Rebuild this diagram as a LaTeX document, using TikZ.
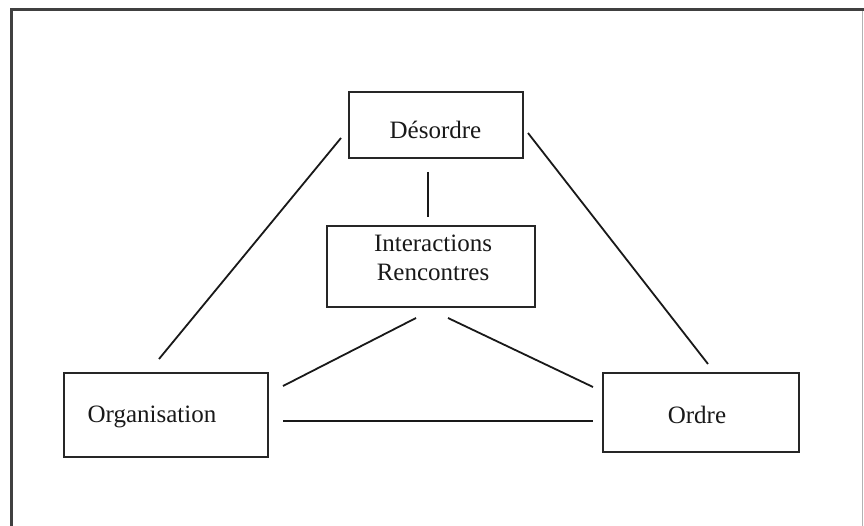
\documentclass[tikz,border=0pt]{standalone}
\usepackage{fontspec}
\setmainfont{Liberation Serif}
\begin{document}
\begin{tikzpicture}[x=1pt,y=-1pt,
  box/.style={draw=black!85,line width=1.7pt,rectangle,inner sep=0pt},
  lbl/.style={inner sep=0pt,align=center,text=black!90,font=\fontsize{25}{29}\selectfont},
  link/.style={draw=black!90,line width=1.8pt}]
  \useasboundingbox (0,0) rectangle (864,526);
  \fill[white] (0,0) rectangle (864,526);
  % outer frame
  \draw[black!30,line width=1pt] (862,10) -- (862,526);
  \draw[black!75,line width=3pt] (11,526) -- (11,10) -- (864,10);

  % boxes
  \node[box,minimum width=174pt,minimum height=66pt] (des) at (436,125) {};
  \node[box,minimum width=208pt,minimum height=81pt] (int) at (431,266.5) {};
  \node[box,minimum width=204pt,minimum height=84pt] (org) at (166,415) {};
  \node[box,minimum width=196pt,minimum height=79pt] (ord) at (701,412.5) {};

  % labels
  \node[lbl] (tdes) at (435.5,130) {Désordre};
  \node[lbl] (tint) at (433,258) {Interactions\\Rencontres};
  \node[lbl] (torg) at (152,417) {Organisation};
  \node[lbl] (tord) at (697,415) {Ordre};

  % connector ends
  \coordinate (a1) at (341,138);
  \coordinate (a2) at (159,359);
  \coordinate (b1) at (528,133);
  \coordinate (b2) at (708,364);
  \coordinate (c1) at (428,172);
  \coordinate (c2) at (428,217);
  \coordinate (d1) at (416,318);
  \coordinate (d2) at (283,386);
  \coordinate (e1) at (448,318);
  \coordinate (e2) at (593,387);
  \coordinate (f1) at (283,421);
  \coordinate (f2) at (593,421);

  \draw[link] (a1) -- (a2);
  \draw[link] (b1) -- (b2);
  \draw[link] (c1) -- (c2);
  \draw[link] (d1) -- (d2);
  \draw[link] (e1) -- (e2);
  \draw[link] (f1) -- (f2);
\end{tikzpicture}
\end{document}
